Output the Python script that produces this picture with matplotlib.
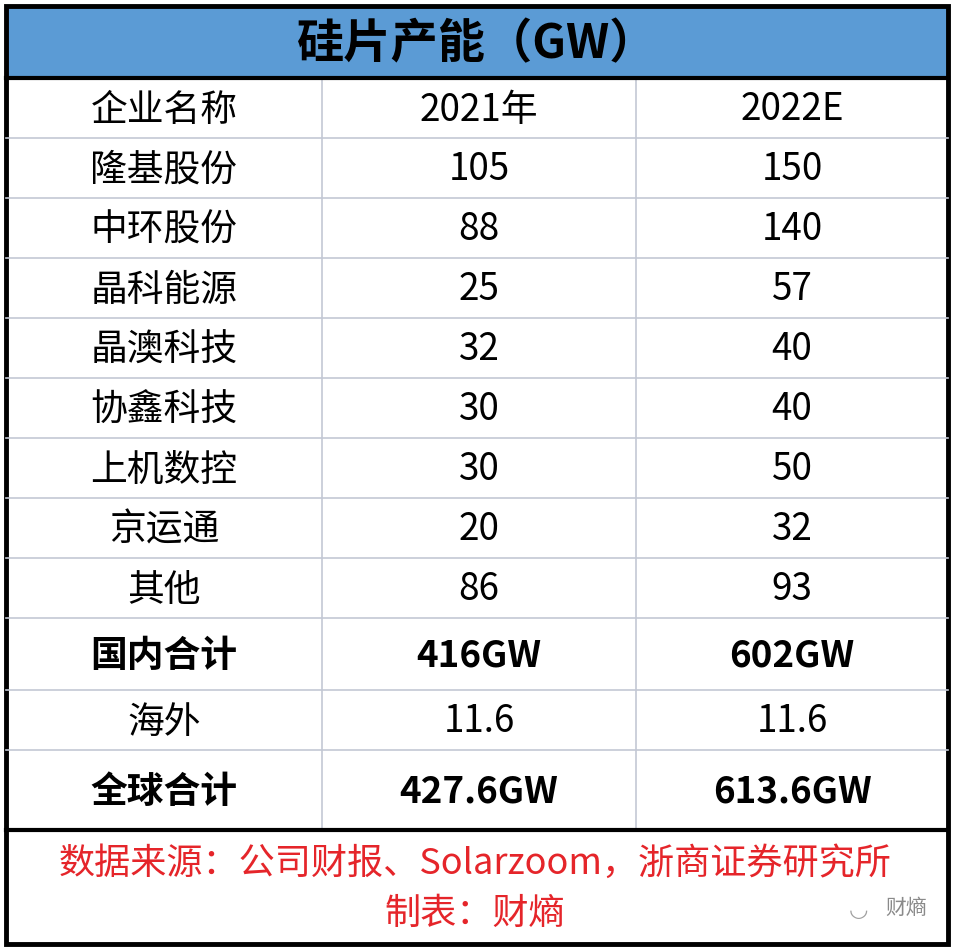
import matplotlib.pyplot as plt
from matplotlib.patches import Rectangle

plt.rcParams['font.family'] = ['Noto Sans CJK SC', 'DejaVu Sans']

title = "硅片产能（GW）"
col_headers = ["企业名称", "2021年", "2022E"]
companies = ["隆基股份", "中环股份", "晶科能源", "晶澳科技", "协鑫科技", "上机数控", "京运通", "其他",
             "国内合计", "海外", "全球合计"]
cap_2021 = ["105", "88", "25", "32", "30", "30", "20", "86", "416GW", "11.6", "427.6GW"]
cap_2022 = ["150", "140", "57", "40", "40", "50", "32", "93", "602GW", "11.6", "613.6GW"]
bold_rows = {"国内合计", "全球合计"}
source = "数据来源：公司财报、Solarzoom，浙商证券研究所"
maker = "制表：财熵"

W, H = 954, 950
fig = plt.figure(figsize=(W / 100, H / 100), dpi=100)
ax = fig.add_axes([0, 0, 1, 1])
ax.set_xlim(0, W)
ax.set_ylim(H, 0)
ax.axis("off")

L, R, T, B = 6, 948, 6, 944
cols = [L, 322, 636, R]
row_edges = [78, 138, 198, 258, 318, 378, 438, 498, 558, 618, 690, 750, 830]
grid = "#c3c8d4"

ax.add_patch(Rectangle((L, T), R - L, row_edges[0] - T, color="#5b9bd5", zorder=0))
ax.text((L + R) / 2, (T + row_edges[0]) / 2 + 2, title, ha="center", va="center",
        fontsize=34, fontweight="bold")

# grid lines
for y in row_edges[1:-1]:
    ax.plot([L, R], [y, y], color=grid, lw=1.2)
for x in cols[1:-1]:
    ax.plot([x, x], [row_edges[0], row_edges[-1]], color=grid, lw=1.2)

rows = [col_headers] + [[c, a, b] for c, a, b in zip(companies, cap_2021, cap_2022)]
for i, row in enumerate(rows):
    yc = (row_edges[i] + row_edges[i + 1]) / 2 + 2
    bold = row[0] in bold_rows
    for j, txt in enumerate(row):
        xc = (cols[j] + cols[j + 1]) / 2
        ax.text(xc, yc, txt, ha="center", va="center", fontsize=26.5,
                fontweight="bold" if bold else "normal")

ax.text(W / 2 - 2, 864, source, ha="center", va="center", fontsize=26, color="#e5252a")
ax.text(W / 2 - 2, 914, maker, ha="center", va="center", fontsize=26, color="#e5252a")
ax.text(906, 908, "财熵", ha="center", va="center", fontsize=15, color="#8a8a8a")
ax.text(858, 910, "◡", ha="center", va="center", fontsize=16, color="#a0a0a0", family="DejaVu Sans")

# black frame lines
ax.plot([L, R], [row_edges[0], row_edges[0]], color="black", lw=3)
ax.plot([L, R], [row_edges[-1], row_edges[-1]], color="black", lw=3)
ax.add_patch(Rectangle((L, T), R - L, B - T, fill=False, edgecolor="black", lw=3.5))

fig.savefig("out.png", dpi=100, facecolor="white")
